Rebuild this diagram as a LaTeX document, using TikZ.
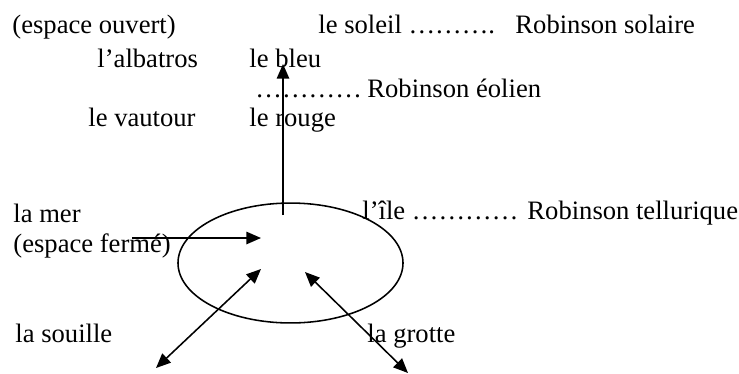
\documentclass[tikz,border=0pt]{standalone}
\usepackage{fontspec}
\setmainfont{Liberation Serif}
\usetikzlibrary{shapes.geometric,arrows.meta}
\tikzstyle{lbl} = [anchor=base west, inner sep=0pt, font={\fontsize{12}{14}\selectfont}]
\tikzstyle{ile} = [draw, ellipse, line width=0.7pt, inner sep=0pt, minimum width=101.5pt, minimum height=54.1pt]
\tikzstyle{arr} = [line width=0.7pt, -{Triangle[length=6.6pt,width=5.6pt]}]
\tikzstyle{darr} = [line width=0.7pt, {Triangle[length=6.6pt,width=5.6pt]}-{Triangle[length=6.6pt,width=5.6pt]}]

\begin{document}
\begin{tikzpicture}[x=0.4511pt,y=-0.4511pt]
        \useasboundingbox (0,0) rectangle (739,373);
        % upper part
        \node[lbl](ouvert) at (12,33){(espace ouvert)};
        \node[lbl](soleil) at (318,33){le soleil ……….};
        \node[lbl](solaire) at (515,33){Robinson solaire};
        \node[lbl](albatros) at (97,67){l’albatros};
        \node[lbl](bleu) at (249,67){le bleu};
        \node[lbl](dotsE) at (255,97){…………};
        \node[lbl](eolien) at (367,97){Robinson éolien};
        \node[lbl](vautour) at (88,126){le vautour};
        \node[lbl](rouge) at (249,126){le rouge};
        % island
        \node[ile](isle) at (290.5,263){};
        \node[lbl](ile) at (362,219){l’île …………};
        \node[lbl](tellur) at (527,219){Robinson tellurique};
        \node[lbl](mer) at (13,222){la mer};
        \node[lbl](ferme) at (13,252){(espace fermé)};
        \node[lbl](souille) at (15,342){la souille};
        \node[lbl](grotte) at (367,342){la grotte};
        \coordinate(up0) at (283,215);
        \coordinate(up1) at (283,64);
        \coordinate(sea0) at (132,238);
        \coordinate(sea1) at (261,238);
        \coordinate(mid1) at (261,269);
        \coordinate(mid2) at (305,272);
        \coordinate(sou) at (156,368);
        \coordinate(gro) at (408,373);
        \draw[arr](up0)--(up1);
        \draw[arr](sea0)--(sea1);
        \draw[darr](sou)--(mid1);
        \draw[darr](mid2)--(gro);
      \end{tikzpicture}
\end{document}
